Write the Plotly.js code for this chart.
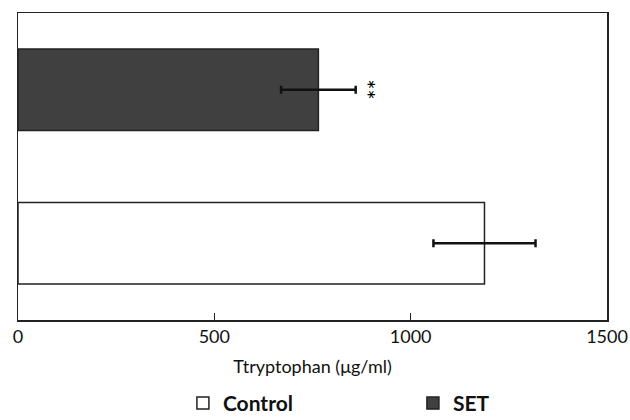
<!DOCTYPE html>
<html>
<head>
<meta charset="utf-8">
<script src="https://cdn.plot.ly/plotly-3.0.1.min.js"></script>
<style>html,body{margin:0;padding:0;background:#fff;}#chart{width:630px;height:420px;}</style>
</head>
<body>
<div id="chart"></div>
<script>
const groups = ['Control', 'SET'];
const means = [1188, 765];
const errors = [130, 95];
const colors = ['#ffffff', '#404040'];
const xTicks = [0, 500, 1000, 1500];
const xTitle = 'Ttryptophan (μg/ml)';
const significance = '**';

const traces = groups.map((g, i) => ({
  type: 'bar',
  orientation: 'h',
  name: g,
  y: [g],
  x: [means[i]],
  marker: {color: colors[i], line: {color: '#222', width: 1.5}},
  error_x: {type: 'data', array: [errors[i]], visible: true, color: '#111', thickness: 2.5, width: 4}
}));

const layout = {
  width: 630, height: 420,
  margin: {l: 18, r: 23, t: 13, b: 100, autoexpand: false},
  paper_bgcolor: '#fff', plot_bgcolor: '#fff',
  barmode: 'overlay',
  bargap: 0.47,
  showlegend: true,
  font: {family: 'Lato, "Open Sans", sans-serif', color: '#111'},
  xaxis: {
    range: [0, 1500], tickvals: xTicks, ticktext: xTicks.map(String),
    ticks: 'inside', ticklen: 7, tickwidth: 1.2, tickcolor: '#222',
    ticklabeloverflow: 'allow',
    showgrid: false, zeroline: false,
    showline: true, linecolor: '#222', linewidth: 1.5, mirror: true,
    tickfont: {size: 18, color: '#111'},
    title: {text: xTitle, font: {size: 18, color: '#111'}, standoff: 14}
  },
  yaxis: {
    categoryorder: 'array', categoryarray: groups,
    showticklabels: false, ticks: '', showgrid: false, zeroline: false,
    showline: true, linecolor: '#222', linewidth: 1.5, mirror: true
  },
  legend: {
    orientation: 'h', x: 0.28, xanchor: 'left', y: -0.205, yanchor: 'top',
    entrywidth: 185, entrywidthmode: 'pixels', traceorder: 'normal',
    font: {size: 21, family: 'Lato, "Open Sans", sans-serif', weight: 'bold', color: '#111'}
  },
  annotations: [{
    x: means[1] + errors[1] + 30, y: groups[1], xref: 'x', yref: 'y',
    text: significance, textangle: 90, showarrow: false,
    font: {size: 24, color: '#000'}
  }]
};

Plotly.newPlot('chart', traces, layout, {displayModeBar: false, staticPlot: true});
</script>
</body>
</html>
